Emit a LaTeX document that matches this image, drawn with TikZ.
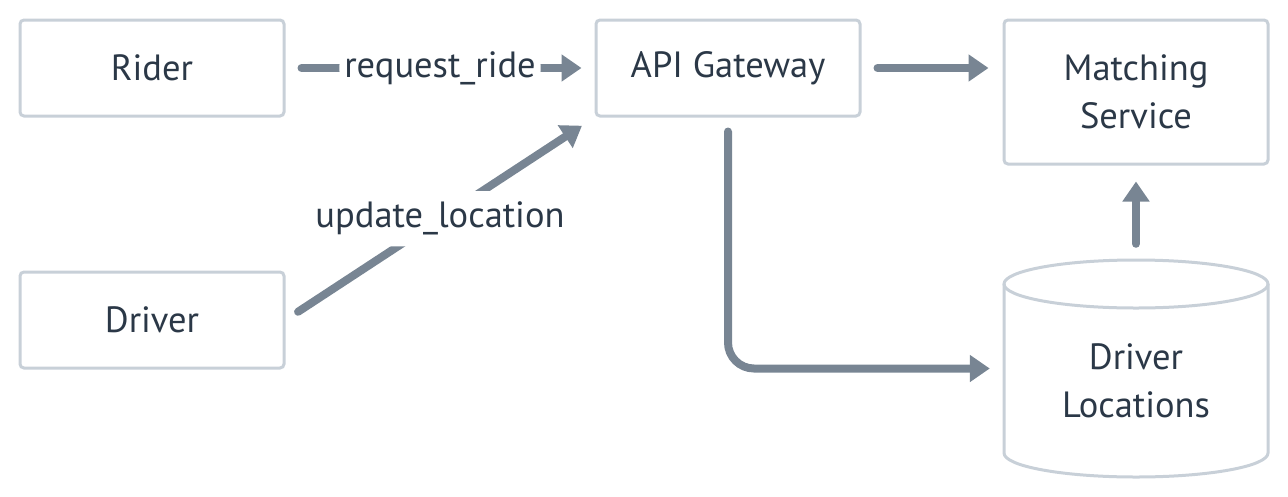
\documentclass[tikz,border=0pt]{standalone}
\usepackage{fontspec}
\setmainfont{PT Sans}
\usetikzlibrary{arrows.meta}
\definecolor{boxline}{HTML}{C8D0D8}
\definecolor{flowc}{HTML}{788593}
\definecolor{ink}{HTML}{2B3847}
\tikzset{
  box/.style={draw=boxline, line width=3pt, rounded corners=4pt, minimum width=264pt,
    minimum height=96pt, inner sep=0pt, text=ink, align=center},
  flow/.style={draw=flowc, line width=8pt, line cap=round, rounded corners=26pt,
    -{Triangle[length=20pt,width=26pt]}},
  lbl/.style={fill=white, text=ink, inner xsep=5pt, inner ysep=11pt}
}
\begin{document}
\begin{tikzpicture}[x=1pt,y=-1pt,font=\fontsize{36.5}{48}\selectfont]
\useasboundingbox (0,0) rectangle (1288,496);
%services
\node[box] (rider) at (152,68) {Rider};
\node[box] (driver) at (152,320) {Driver};
\node[box] (api) at (728,68) {API Gateway};
\node[box, minimum height=144pt] (match) at (1136,92) {Matching\\Service};
%store
\node[minimum width=264pt, minimum height=217pt, inner sep=0pt] (locs) at (1136,368.5) {};
\draw[boxline, line width=3pt] (1136,284) ellipse [x radius=132, y radius=24];
\draw[boxline, line width=3pt] (1004,284) -- (1004,453)
  arc[start angle=180, end angle=0, x radius=132, y radius=24] -- (1268,284);
\node[text=ink, align=center, inner sep=0pt] (locstext) at ([yshift=-12.5pt]locs.center) {Driver\\Locations};
%flows
\draw[flow, shorten <=16pt, shorten >=13pt] (rider.east) -- node[lbl] {request\_ride} (api.west);
\draw[flow, shorten <=15pt, shorten >=15pt] (driver.east) -- node[lbl] {update\_location} (api.south west);
\draw[flow, shorten <=16pt, shorten >=14pt] (api.east) -- (api.east -| match.west);
\draw[flow, shorten <=14pt, shorten >=14pt] (api.south) |- (locs.west);
\draw[flow, shorten <=16pt, shorten >=16pt] (locs.north) -- (match.south);
\end{tikzpicture}
\end{document}
